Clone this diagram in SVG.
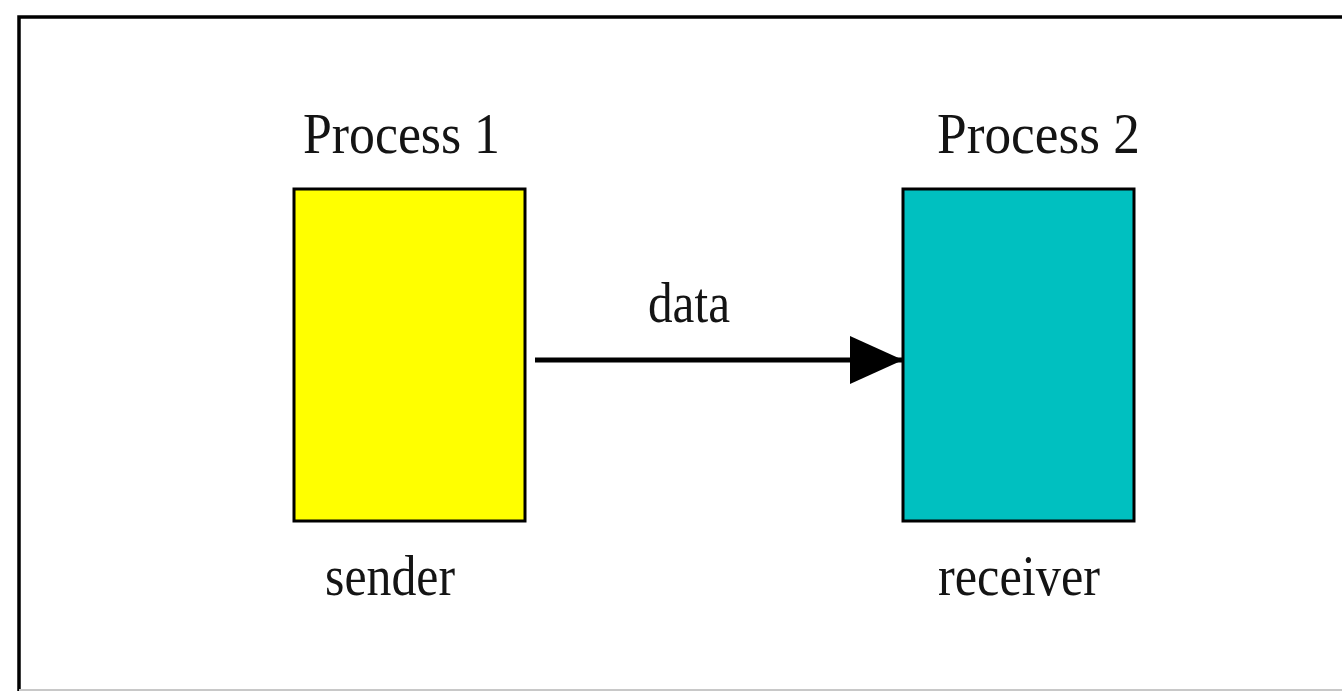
<svg xmlns="http://www.w3.org/2000/svg" width="1342" height="691" viewBox="0 0 1342 691">
<style>
.lbl{font-family:"Liberation Serif","Times New Roman",serif;font-size:56px;fill:#141414}
.box{stroke:#000;stroke-width:3}
</style>
<defs>
<marker id="ah" markerUnits="userSpaceOnUse" markerWidth="53" markerHeight="48" refX="53" refY="24" orient="auto">
<path d="M0,0 L53,24 L0,48 Z" fill="#000"/>
</marker>
</defs>
<rect width="1342" height="691" fill="#fff"/>
<g id="frame">
<path d="M19,691 V17 H1342" fill="none" stroke="#000" stroke-width="3.5"/>
<line x1="19" y1="690" x2="1342" y2="690" stroke="#c8c8c8" stroke-width="2"/>
</g>
<g id="connectors">
<line x1="535" y1="360" x2="903" y2="360" stroke="#000" stroke-width="5" marker-end="url(#ah)"/>
<text class="lbl" x="648" y="322" textLength="82" lengthAdjust="spacingAndGlyphs">data</text>
</g>
<g id="process1">
<text class="lbl" x="303" y="153" textLength="197" lengthAdjust="spacingAndGlyphs">Process 1</text>
<rect class="box" x="294" y="189" width="231" height="332" fill="#ffff00"/>
<text class="lbl" x="325" y="595" textLength="130" lengthAdjust="spacingAndGlyphs">sender</text>
</g>
<g id="process2">
<text class="lbl" x="937" y="153" textLength="203" lengthAdjust="spacingAndGlyphs">Process 2</text>
<rect class="box" x="903" y="189" width="231" height="332" fill="#00c0c0"/>
<text class="lbl" x="938" y="595" textLength="162" lengthAdjust="spacingAndGlyphs">receiver</text>
</g>
</svg>
